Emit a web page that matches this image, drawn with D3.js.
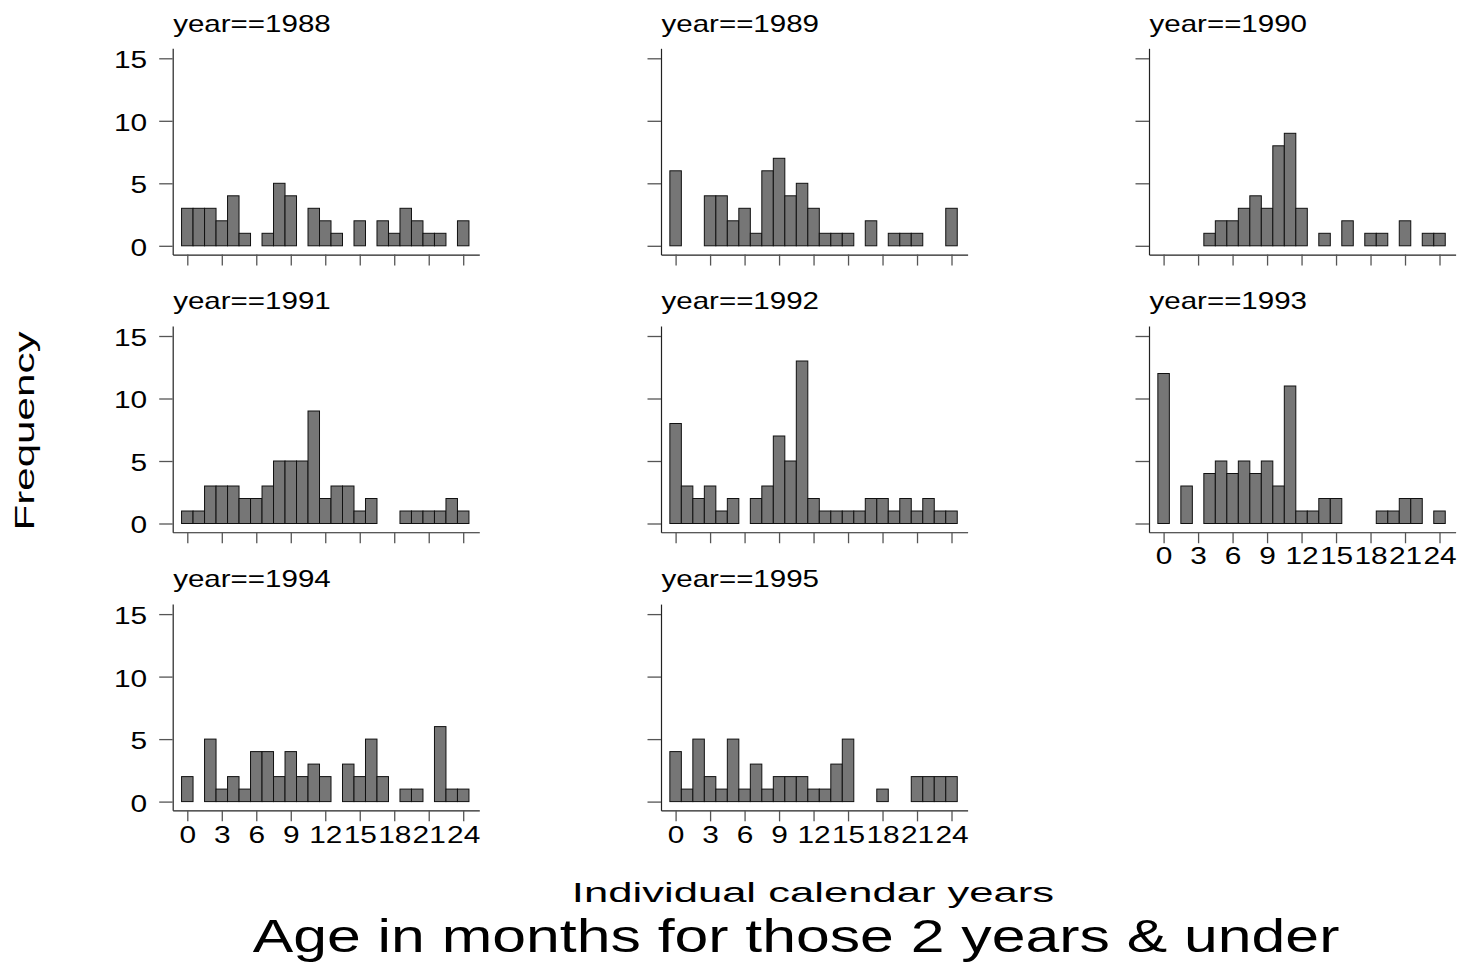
<!DOCTYPE html>
<html><head><meta charset="utf-8">
<script src="https://cdn.jsdelivr.net/npm/d3@7"></script>
<style>
body{margin:0;background:#fff}
svg{display:block}
text{font-family:"Liberation Sans",Arial,Helvetica,sans-serif;fill:#000}
</style>
</head><body>
<svg id="chart" width="1459" height="964"></svg>
<script>
// ---- data ----
const months = [0,1,2,3,4,5,6,7,8,9,10,11,12,13,14,15,16,17,18,19,20,21,22,23,24];
const xTickValues = [0,3,6,9,12,15,18,21,24];
const yTickValues = [0,5,10,15];
const years = [1988,1989,1990,1991,1992,1993,1994,1995];
const freq1988 = [3,3,3,2,4,1,0,1,5,4,0,3,2,1,0,2,0,2,1,3,2,1,1,0,2];
const freq1989 = [6,0,0,4,4,2,3,1,6,7,4,5,3,1,1,1,0,2,0,1,1,1,0,0,3];
const freq1990 = [0,0,0,0,1,2,2,3,4,3,8,9,3,0,1,0,2,0,1,1,0,2,0,1,1];
const freq1991 = [1,1,3,3,3,2,2,3,5,5,5,9,2,3,3,1,2,0,0,1,1,1,1,2,1];
const freq1992 = [8,3,2,3,1,2,0,2,3,7,5,13,2,1,1,1,1,2,2,1,2,1,2,1,1];
const freq1993 = [12,0,3,0,4,5,4,5,4,5,3,11,1,1,2,2,0,0,0,1,1,2,2,0,1];
const freq1994 = [2,0,5,1,2,1,4,4,2,4,2,3,2,0,3,2,5,2,0,1,1,0,6,1,1];
const freq1995 = [4,1,5,2,1,5,1,3,1,2,2,2,1,1,3,5,0,0,1,0,0,2,2,2,2];
const series = [freq1988,freq1989,freq1990,freq1991,freq1992,freq1993,freq1994,freq1995];
const titleText = "Age in months for those 2 years & under";
const xTitleText = "Individual calendar years";
const yTitleText = "Frequency";

// ---- layout ----
const svg = d3.select("#chart");
const nCols = 3;
const colLeft = [172.7, 661.0, 1149.0];
const panelW = 306.6;
const rowZero = [245.8, 523.5, 801.6];
const pxUnit = 12.5;
const xDomain = [-1.27, 25.4];
const yDomain = [-0.7, 15.8];
const tickFont = 23.5, tickSX = 1.27;
const panelFont = 24, panelSX = 1.23;

// stretch text horizontally about its anchor point
function stretch(sel, sx) {
  sel.each(function() {
    const t = d3.select(this);
    const x = +t.attr("x") || 0, y = +t.attr("y") || 0;
    t.attr("x", 0).attr("y", 0)
     .attr("transform", `translate(${x},${y}) scale(${sx},1)`);
  });
}

years.forEach((yr, i) => {
  const col = i % nCols, row = Math.floor(i / nCols);
  const data = series[i];
  const left = colLeft[col];
  const bottom = rowZero[row] - yDomain[0] * pxUnit;
  const top = rowZero[row] - yDomain[1] * pxUnit;
  const x = d3.scaleLinear().domain(xDomain).range([left, left + panelW]);
  const y = d3.scaleLinear().domain(yDomain).range([bottom, top]);
  const g = svg.append("g");

  // bars
  g.selectAll("rect").data(months.filter(m => data[m] > 0)).join("rect")
    .attr("x", m => x(m - 0.5))
    .attr("width", m => x(m + 0.5) - x(m - 0.5))
    .attr("y", m => y(data[m]))
    .attr("height", m => y(0) - y(data[m]))
    .attr("fill", "#767676")
    .attr("stroke", "#111")
    .attr("stroke-width", 1);

  // y axis
  const showY = col === 0;
  const ya = d3.axisLeft(y).tickValues(yTickValues).tickSize(13.5).tickSizeOuter(0).tickPadding(12)
    .tickFormat(showY ? d3.format("d") : () => "");
  const yg = g.append("g").attr("transform", `translate(${left},0)`).call(ya);
  yg.attr("font-family", null).attr("font-size", null);
  yg.select(".domain").attr("stroke", "#222").attr("stroke-width", 1.2);
  yg.selectAll(".tick line").attr("stroke", "#555").attr("stroke-width", 1.3);
  yg.selectAll(".tick text").attr("font-size", tickFont).attr("fill", "#000").attr("dy", "0.40em")
    .call(stretch, tickSX);

  // x axis
  const isBottom = (i + nCols >= years.length);
  const xa = d3.axisBottom(x).tickValues(xTickValues).tickSize(11).tickSizeOuter(0).tickPadding(4.5)
    .tickFormat(isBottom ? d3.format("d") : () => "");
  const xg = g.append("g").attr("transform", `translate(0,${bottom})`).call(xa);
  xg.attr("font-family", null).attr("font-size", null);
  xg.select(".domain").attr("stroke", "#222").attr("stroke-width", 1.2);
  xg.selectAll(".tick line").attr("stroke", "#555").attr("stroke-width", 1.3);
  xg.selectAll(".tick text").attr("font-size", tickFont).attr("fill", "#000")
    .call(stretch, tickSX);

  // panel title
  g.append("text")
    .attr("x", left + 0.5)
    .attr("y", rowZero[row] - 214.2)
    .attr("font-size", panelFont)
    .text("year==" + yr)
    .call(stretch, panelSX);
});

// y axis title
svg.append("text")
  .attr("transform", "translate(34,431) rotate(-90) scale(1.48,1)")
  .attr("text-anchor", "middle")
  .attr("font-size", 28.5)
  .text(yTitleText);

// x axis title
svg.append("text")
  .attr("x", 813).attr("y", 902)
  .attr("text-anchor", "middle")
  .attr("font-size", 28.5)
  .text(xTitleText)
  .call(stretch, 1.53);

// main title (bottom)
svg.append("text")
  .attr("x", 796).attr("y", 952)
  .attr("text-anchor", "middle")
  .attr("font-size", 46)
  .text(titleText)
  .call(stretch, 1.32);
</script>
</body></html>
